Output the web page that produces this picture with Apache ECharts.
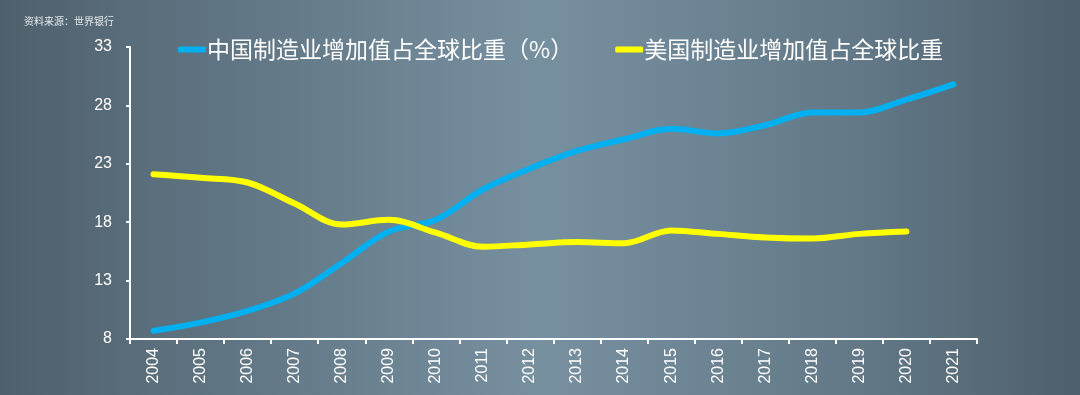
<!DOCTYPE html>
<html>
<head>
<meta charset="utf-8">
<script src="https://cdn.jsdelivr.net/npm/echarts@6/dist/echarts.min.js"></script>
<style>
html,body{margin:0;padding:0;width:1080px;height:395px;overflow:hidden;}
#c{width:1080px;height:395px;}
</style>
</head>
<body>
<div id="c"></div>
<script>
const years = ['2004','2005','2006','2007','2008','2009','2010','2011','2012','2013','2014','2015','2016','2017','2018','2019','2020','2021'];
const chinaShare = [8.7,9.4,10.4,11.9,14.5,17.2,18.2,20.8,22.6,24.1,25.1,26.0,25.6,26.3,27.4,27.4,28.5,29.8];
const usShare = [22.1,21.8,21.4,19.6,17.8,18.2,17.1,15.9,16.1,16.3,16.2,17.3,17.0,16.7,16.6,17.0,17.2,null];
const seriesNames = ['中国制造业增加值占全球比重（%）','美国制造业增加值占全球比重'];
const sourceText = '资料来源：世界银行';
const yTicks = {min: 8, max: 33, interval: 5};

const chart = echarts.init(document.getElementById('c'), null, {renderer: 'canvas'});
const cjk = '"Noto Sans CJK SC", "Noto Sans", sans-serif';
const num = '"Liberation Sans", "Noto Sans", sans-serif';
chart.setOption({
  animation: false,
  backgroundColor: {
    type: 'linear', x: 0, y: 0, x2: 1, y2: 0,
    colorStops: [
      {offset: 0, color: '#4f606c'},
      {offset: 0.2, color: '#5f7482'},
      {offset: 0.5, color: '#7790a0'},
      {offset: 0.8, color: '#627887'},
      {offset: 1, color: '#4e5f6b'}
    ]
  },
  title: {
    text: sourceText, left: 19, top: 11,
    textStyle: {color: '#e6e9ec', fontSize: 10, fontWeight: 'normal', fontFamily: cjk}
  },
  legend: {
    top: 33, left: 173,
    itemWidth: 28, itemHeight: 6, itemGap: 42,
    icon: 'roundRect',
    textStyle: {color: '#ffffff', fontSize: 23, fontFamily: cjk, padding: [0,0,0,-4]},
    data: seriesNames
  },
  grid: {left: 130, right: 103, top: 47, bottom: 56, containLabel: false},
  xAxis: {
    type: 'category', data: years, boundaryGap: true,
    axisLine: {lineStyle: {color: '#ffffff', width: 2}},
    axisTick: {show: true, length: 5, lineStyle: {color: '#ffffff', width: 2}},
    axisLabel: {rotate: 90, color: '#ffffff', fontSize: 16, fontFamily: num, margin: 9},
    splitLine: {show: false}
  },
  yAxis: {
    type: 'value', min: yTicks.min, max: yTicks.max, interval: yTicks.interval,
    axisLine: {show: true, lineStyle: {color: '#ffffff', width: 2}},
    axisTick: {show: true, length: 4, lineStyle: {color: '#ffffff', width: 2}},
    axisLabel: {color: '#ffffff', fontSize: 16, fontFamily: num, margin: 18},
    splitLine: {show: false}
  },
  series: [
    {
      name: seriesNames[0], type: 'line', data: chinaShare, smooth: 0.35,
      showSymbol: false, symbol: 'none',
      itemStyle: {color: '#00b0f0'},
      lineStyle: {color: '#00b0f0', width: 6, cap: 'round', join: 'round'}
    },
    {
      name: seriesNames[1], type: 'line', data: usShare, smooth: 0.35,
      showSymbol: false, symbol: 'none',
      itemStyle: {color: '#ffff00'},
      lineStyle: {color: '#ffff00', width: 6, cap: 'round', join: 'round'}
    }
  ]
});
</script>
</body>
</html>
